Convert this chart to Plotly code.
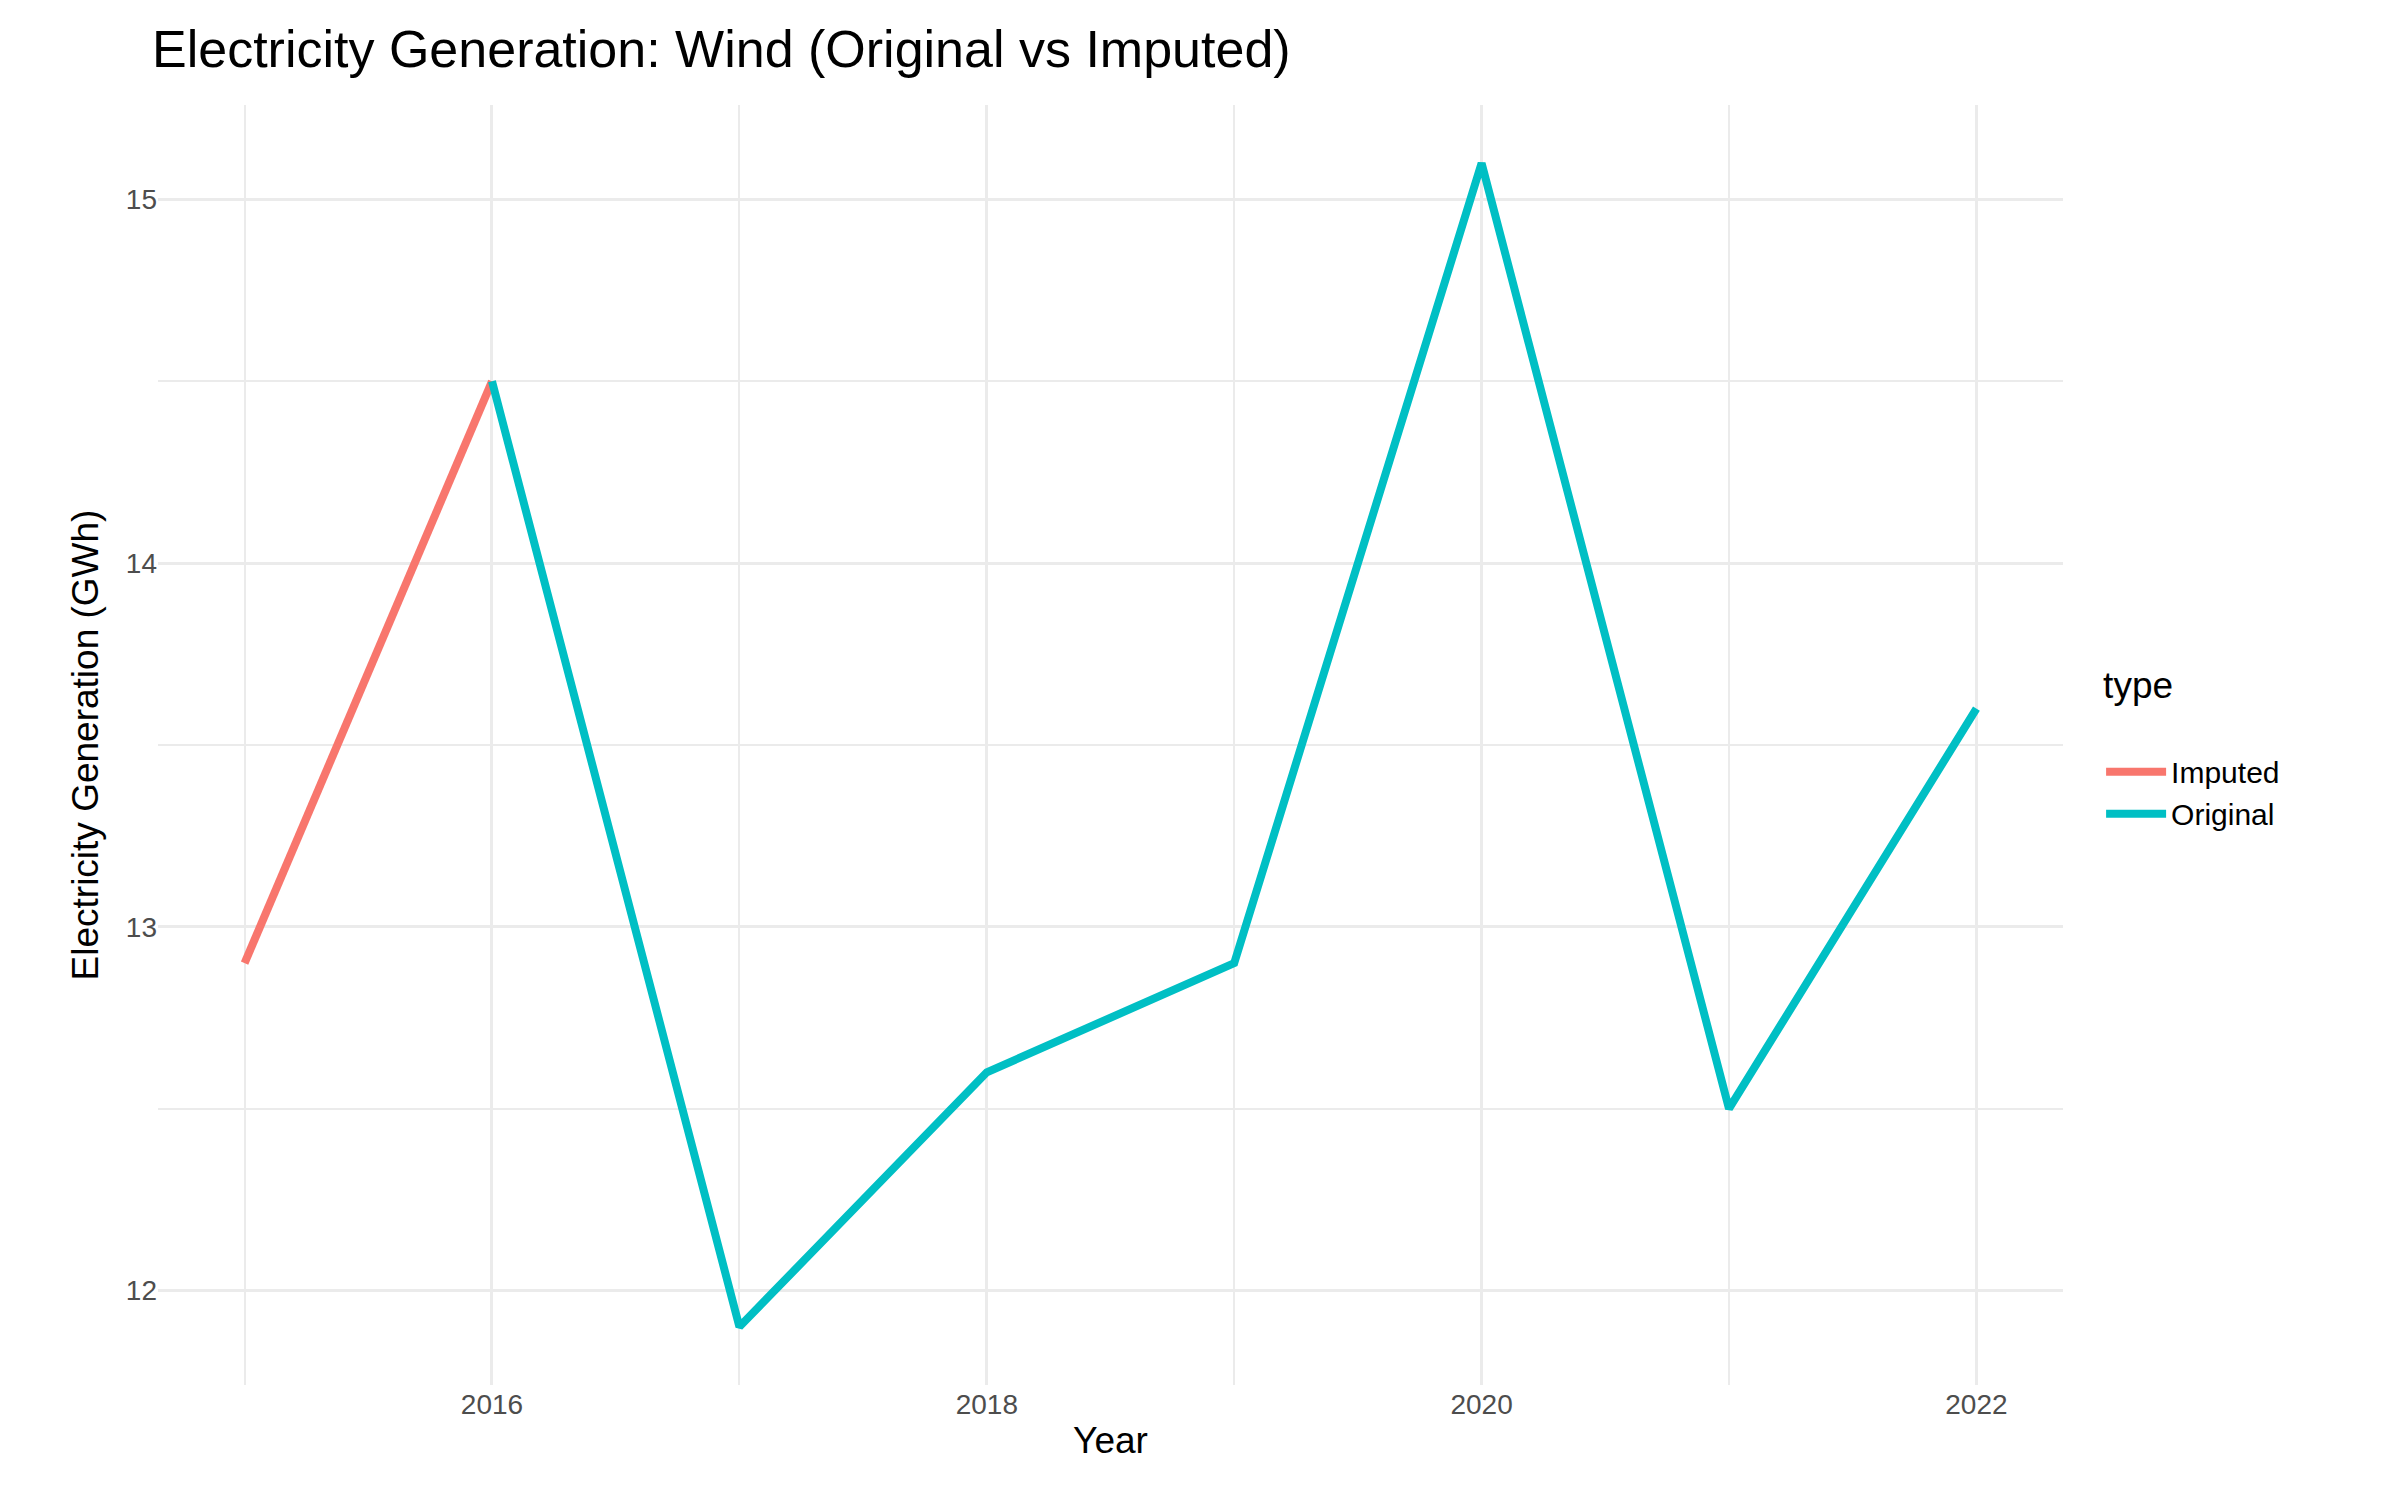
import plotly.graph_objects as go

years_imp = [2015, 2016]
vals_imp = [12.9, 14.5]
years_orig = [2016, 2017, 2018, 2019, 2020, 2021, 2022]
vals_orig = [14.5, 11.9, 12.6, 12.9, 15.1, 12.5, 13.6]

fig = go.Figure()
fig.add_trace(go.Scatter(x=years_imp, y=vals_imp, mode="lines", name="Imputed",
                         line=dict(color="#F8766D", width=8)))
fig.add_trace(go.Scatter(x=years_orig, y=vals_orig, mode="lines", name="Original",
                         line=dict(color="#00BFC4", width=8)))

fig.update_layout(
    width=2400, height=1500,
    paper_bgcolor="white", plot_bgcolor="white",
    font=dict(family="Liberation Sans, Arial, sans-serif", color="#000000"),
    title=dict(text="Electricity Generation: Wind (Original vs Imputed)", x=0.06, xanchor="left",
               y=0.985, yanchor="top", font=dict(size=52)),
    margin=dict(l=150, r=345, t=97, b=123),
    legend=dict(title=dict(text="type<br>", font=dict(size=37)), font=dict(size=30),
                x=1.02, y=0.5, yanchor="middle", xanchor="left", tracegroupgap=30,
                itemwidth=60),
    xaxis=dict(title=dict(text="Year", font=dict(size=37), standoff=8),
               range=[2014.65, 2022.35], tickvals=[2016, 2018, 2020, 2022],
               tickfont=dict(size=28, color="#4d4d4d"), showgrid=True, gridcolor="#EBEBEB",
               gridwidth=3, minor=dict(dtick=1, tick0=2015, showgrid=True, gridcolor="#EBEBEB", gridwidth=1.5),
               zeroline=False, showline=False),
    yaxis=dict(title=dict(text="Electricity Generation (GWh)", font=dict(size=37), standoff=15),
               range=[11.74, 15.26], tickvals=[12, 13, 14, 15],
               tickfont=dict(size=28, color="#4d4d4d"), showgrid=True, gridcolor="#EBEBEB",
               gridwidth=3, minor=dict(dtick=0.5, tick0=12, showgrid=True, gridcolor="#EBEBEB", gridwidth=1.5),
               zeroline=False, showline=False),
)
fig.write_html("out.html")
